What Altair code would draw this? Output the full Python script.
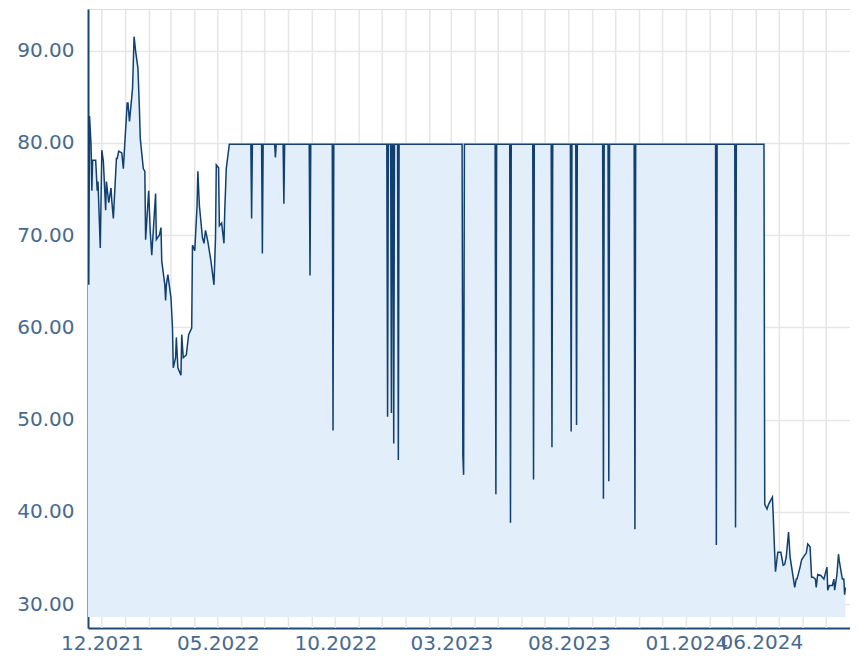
import altair as alt
import pandas as pd

# ---- data ----
early_dates = [
    "2021-11-13", "2021-11-14", "2021-11-15", "2021-11-17", "2021-11-18", "2021-11-19",
    "2021-11-23", "2021-11-25", "2021-11-26", "2021-11-29", "2021-12-01", "2021-12-03",
    "2021-12-06", "2021-12-07", "2021-12-10", "2021-12-13", "2021-12-14", "2021-12-16",
    "2021-12-20", "2021-12-21", "2021-12-23", "2021-12-27", "2021-12-29", "2022-01-03",
    "2022-01-04", "2022-01-06", "2022-01-10", "2022-01-12", "2022-01-14", "2022-01-17",
    "2022-01-19", "2022-01-20", "2022-01-24", "2022-01-26", "2022-01-27", "2022-01-31",
    "2022-02-02", "2022-02-04", "2022-02-07", "2022-02-09", "2022-02-10", "2022-02-14",
    "2022-02-16", "2022-02-17", "2022-02-21", "2022-02-22", "2022-02-23", "2022-02-25",
    "2022-03-01", "2022-03-03", "2022-03-04", "2022-03-07", "2022-03-08", "2022-03-10",
    "2022-03-14", "2022-03-15", "2022-03-17", "2022-03-21", "2022-03-24", "2022-03-28",
    "2022-03-29", "2022-04-01", "2022-04-04", "2022-04-05", "2022-04-07", "2022-04-11",
    "2022-04-13", "2022-04-15", "2022-04-18", "2022-04-22", "2022-04-26", "2022-04-28",
    "2022-04-29", "2022-05-02", "2022-05-03", "2022-05-06", "2022-05-09", "2022-05-10",
    "2022-05-11", "2022-05-12",
]
early_values = [
    94.4, 64.6, 82.9, 79.7, 74.8, 78.1,
    78.1, 74.8, 75.8, 68.6, 79.2, 78.0,
    72.7, 75.8, 73.5, 75.1, 73.7, 71.8,
    78.3, 78.3, 79.1, 78.9, 77.2, 84.3,
    84.3, 82.3, 85.9, 91.5, 89.9, 88.1,
    83.5, 80.5, 77.2, 76.9, 69.5, 74.8,
    70.4, 67.8, 71.8, 74.5, 69.5, 70.0,
    70.8, 67.2, 64.6, 62.9, 64.6, 65.7,
    63.2, 59.9, 55.6, 56.7, 58.9, 55.6,
    54.8, 59.2, 56.7, 57.0, 59.2, 59.9,
    68.9, 68.3, 73.2, 76.9, 73.2, 69.7,
    69.1, 70.5, 69.3, 67.2, 64.6, 69.7,
    77.6, 77.3, 71.0, 71.3, 69.1, 72.6,
    74.8, 77.2,
]

flat_level = 79.85
flat_start = "2022-05-16"
flat_end = "2024-04-11"

spike_dates = [
    "2022-06-14", "2022-06-28", "2022-07-15", "2022-07-26", "2022-08-29", "2022-09-28",
    "2022-12-08", "2022-12-13", "2022-12-16", "2022-12-22", "2023-03-16", "2023-03-17",
    "2023-04-28", "2023-05-17", "2023-06-16", "2023-07-10", "2023-08-04", "2023-08-11",
    "2023-09-15", "2023-09-22", "2023-10-26", "2024-02-09", "2024-03-05",
]
spike_values = [
    71.8, 68.0, 78.4, 73.4, 65.6, 48.8,
    50.3, 50.7, 47.4, 45.6, 46.1, 44.0,
    41.9, 38.8, 43.5, 47.0, 48.7, 49.4,
    41.4, 43.3, 38.1, 36.4, 38.3,
]

late_dates = [
    "2024-04-12", "2024-04-15", "2024-04-17", "2024-04-22", "2024-04-23", "2024-04-25",
    "2024-04-26", "2024-04-29", "2024-05-03", "2024-05-06", "2024-05-08", "2024-05-10",
    "2024-05-13", "2024-05-15", "2024-05-17", "2024-05-21", "2024-05-23", "2024-05-24",
    "2024-05-28", "2024-05-30", "2024-06-03", "2024-06-05", "2024-06-07", "2024-06-10",
    "2024-06-12", "2024-06-14", "2024-06-17", "2024-06-18", "2024-06-20", "2024-06-24",
    "2024-06-26", "2024-06-28", "2024-07-02", "2024-07-03", "2024-07-05", "2024-07-09",
    "2024-07-11", "2024-07-12", "2024-07-15", "2024-07-17", "2024-07-18", "2024-07-22",
    "2024-07-24", "2024-07-25", "2024-07-26",
]
late_values = [
    40.8, 40.3, 40.8, 41.6, 39.7, 35.4,
    33.5, 35.6, 35.6, 34.2, 34.3, 35.1,
    37.8, 35.1, 34.0, 31.8, 32.7, 32.7,
    34.0, 34.8, 35.3, 35.5, 36.5, 36.2,
    32.9, 32.9, 32.7, 31.8, 33.2, 33.1,
    32.9, 32.7, 34.0, 31.5, 32.0, 32.0,
    32.7, 31.5, 33.2, 35.4, 34.7, 32.7,
    32.7, 31.0, 31.8,
]

label_months = ["2021-12-01", "2022-05-01", "2022-10-01", "2023-03-01", "2023-08-01", "2024-01-01"]
last_label_month = "2024-06-01"
grid_months = [d.strftime("%Y-%m-%d") for d in pd.date_range("2021-12-01", "2024-07-01", freq="MS")]

# ---- build the table ----
points = dict(zip(early_dates, early_values))
points[flat_start] = flat_level
points[flat_end] = flat_level
spikes = dict(zip(spike_dates, spike_values))
points.update(spikes)
for d in spike_dates:
    t = pd.Timestamp(d)
    for nb in (t - pd.Timedelta(days=1), t + pd.Timedelta(days=1)):
        key = nb.strftime("%Y-%m-%d")
        if key not in spikes:
            points.setdefault(key, flat_level)
points.update(dict(zip(late_dates, late_values)))

df = pd.DataFrame(sorted(points.items()), columns=["date", "value"])
grid_df = pd.DataFrame({"date": grid_months})
last_df = pd.DataFrame({"date": [last_label_month], "label": ["06.2024"]})

ms = lambda s: int(pd.Timestamp(s, tz="UTC").timestamp() * 1000)
x_domain = [ms("2021-11-13"), ms("2024-08-01")]

LINE = "#113f70"
FILL = "#e2eef9"
LABEL = "#48698d"
AXIS = "#1e4a7a"
GRID = "#e6e6e6"
FONT = "DejaVu Sans"

W, H = 762, 619

x_scale = alt.Scale(type="utc", domain=x_domain)
x_enc = alt.X(
    "date:T",
    scale=x_scale,
    axis=alt.Axis(
        values=[ms(d) for d in label_months],
        format="%m.%Y",
        title=None,
        grid=False,
        ticks=False,
        domainColor=AXIS,
        domainWidth=2,
        labelColor=LABEL,
        labelFont=FONT,
        labelFontSize=20,
        labelPadding=5,
        labelOverlap=False,
        labelFlush=False,
    ),
)
y_enc = alt.Y(
    "value:Q",
    scale=alt.Scale(domain=[27.4, 94.5], nice=False, zero=False),
    axis=alt.Axis(
        values=[30, 40, 50, 60, 70, 80, 90],
        format=".2f",
        title=None,
        grid=True,
        gridColor=GRID,
        gridWidth=1.5,
        ticks=False,
        domainColor=AXIS,
        domainWidth=2,
        labelColor=LABEL,
        labelFont=FONT,
        labelFontSize=20,
        labelPadding=14,
    ),
)

grid = alt.Chart(grid_df).mark_rule(color=GRID, strokeWidth=1.5).encode(
    x=alt.X("date:T", scale=x_scale)
)
base = alt.Chart(df)
area = base.mark_area(color=FILL, opacity=1, clip=True).encode(
    x=x_enc, y=y_enc, y2=alt.datum(28.6)
)
line = base.mark_line(color=LINE, strokeWidth=1.5, clip=True).encode(
    x=alt.X("date:T"), y=alt.Y("value:Q")
)
last_label = alt.Chart(last_df).mark_text(
    align="right", baseline="top", font=FONT, fontSize=20, color=LABEL, dy=5
).encode(x=alt.X("date:T"), y=alt.value(H), text="label:N")

chart = (
    alt.layer(grid, area, line, last_label)
    .properties(
        width=W,
        height=H,
        autosize=alt.AutoSizeParams(type="none"),
        padding={"left": 80, "top": 1, "right": 0, "bottom": 26},
    )
    .configure_view(stroke=None)
    .configure(background="white")
)

chart.save("out.html", embed_options={"renderer": "svg", "actions": False})
